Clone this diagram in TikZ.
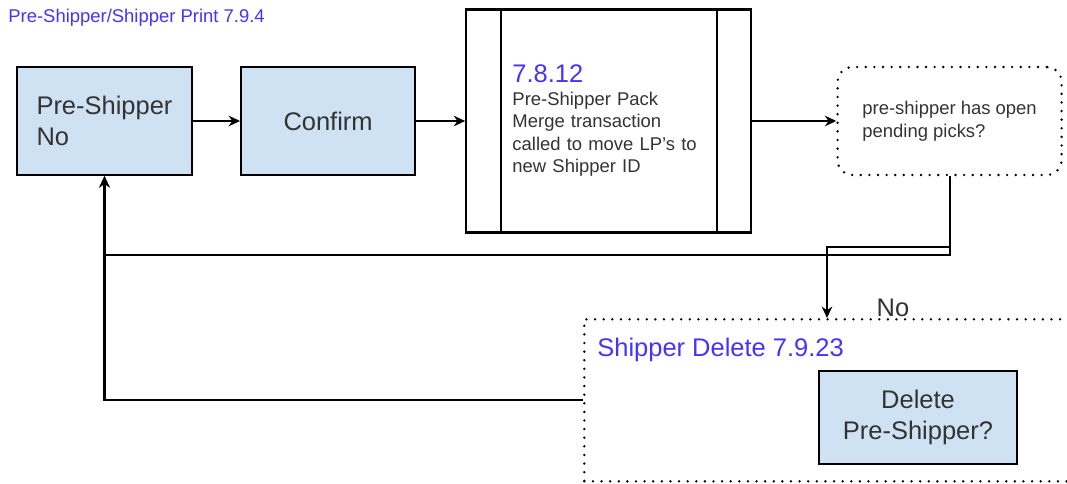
\documentclass[tikz,border=0pt]{standalone}
\usepackage{fontspec}
\setmainfont{Liberation Sans}
\usetikzlibrary{positioning, arrows.meta}
\definecolor{boxblue}{HTML}{CFE2F3}
\definecolor{labelblue}{HTML}{4433FF}
\definecolor{textgray}{HTML}{333333}

\begin{document}
\begin{tikzpicture}[
            node distance=1cm,
            every node/.style={text=textgray, inner sep=0pt},
            % Node styles
            stepbox/.style={rectangle, draw=black, fill=boxblue, line width=1.2pt, minimum width=3.5cm, minimum height=2.16cm, align=left, font=\fontsize{14.5}{17.5}\selectfont},
            subproc/.style={rectangle, draw=black, line width=1.2pt, minimum width=5.7cm, minimum height=4.46cm, text width=3.85cm, align=left, font=\fontsize{10.5}{12.8}\selectfont},
            query/.style={rectangle, rounded corners=0.3cm, draw=black, line width=1.5pt, dash pattern=on 0pt off 4.9pt, line cap=round, minimum width=4.48cm, minimum height=2.16cm, align=left, font=\fontsize{10.5}{13}\selectfont},
            groupbox/.style={rectangle, draw=black, line width=1.5pt, dash pattern=on 0pt off 4.9pt, line cap=round, minimum width=9.94cm, minimum height=3.24cm},
            bluelabel/.style={text=labelblue, anchor=west},
            arrow/.style={line width=1.2pt, -{Stealth[length=6.5pt, width=6pt]}}
        ]
            \useasboundingbox (0,0) rectangle (21.34,9.66);

            % --- Nodes ---
            \node (title) [bluelabel, font=\fontsize{10.5}{12}\selectfont] at (0.16,9.3) {Pre-Shipper/Shipper Print 7.9.4};

            \node (psno) [stepbox] at (2.09,7.24) {Pre-Shipper\\No};

            \node (confirm) [stepbox, minimum width=3.48cm, right=0.94cm of psno] {Confirm};

            \node (packmerge) [subproc, right=0.98cm of confirm] {{\fontsize{14.5}{17}\selectfont\color{labelblue}7.8.12}\\Pre-Shipper Pack\\ Merge transaction\\ called to move LP's to\\ new Shipper ID};
            \draw [line width=1.2pt] ([xshift=0.72cm]packmerge.north west) -- ([xshift=0.72cm]packmerge.south west);
            \draw [line width=1.2pt] ([xshift=-0.7cm]packmerge.north east) -- ([xshift=-0.7cm]packmerge.south east);

            \node (openpicks) [query, right=1.68cm of packmerge] {pre-shipper has open\\ pending picks?};

            \node (shipdel) [groupbox, anchor=north west] at (11.66,3.3) {};
            \node (shipdellabel) [bluelabel, font=\fontsize{14.5}{17}\selectfont] at ([shift={(0.28,-0.64)}]shipdel.north west) {Shipper Delete 7.9.23};

            \node (delps) [stepbox, align=center, minimum width=3.96cm, minimum height=1.86cm] at (18.36,1.31) {Delete\\ Pre-Shipper?};

            % --- Connections ---
            \draw [arrow] (psno) -- (confirm);
            \draw [arrow] (confirm) -- (packmerge);
            \draw [arrow] (packmerge) -- (openpicks);
            \draw [arrow] (openpicks.south) -- ++(0,-1.58) -| (psno.south);
            \draw [arrow] (openpicks.south) -- ++(0,-1.42) -| ([xshift=4.88cm]shipdel.north west);
            \node (nolabel) [font=\fontsize{14.5}{17}\selectfont] at (17.86,3.5) {No};
            \draw [arrow] (shipdel.west) -| (psno.south);

        \end{tikzpicture}
\end{document}
